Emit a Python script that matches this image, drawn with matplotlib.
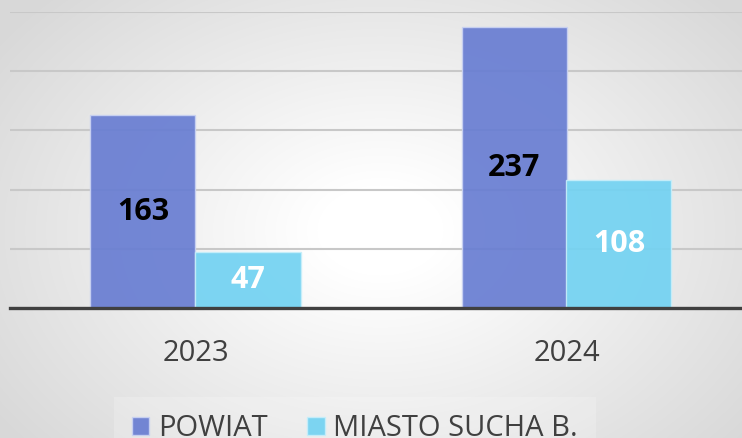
import numpy as np
import matplotlib
matplotlib.use("Agg")
import matplotlib.pyplot as plt

categories = ["2023", "2024"]
powiat = [163, 237]
miasto = [47, 108]
series_names = ["POWIAT", "MIASTO SUCHA B."]
yticks = [0, 50, 100, 150, 200, 250]

plt.rcParams['font.family'] = ['Open Sans', 'DejaVu Sans']

W, H = 742, 438
fig = plt.figure(figsize=(W / 100, H / 100), dpi=100)

# background radial gradient
bg = fig.add_axes([0, 0, 1, 1], zorder=-10)
yy, xx = np.mgrid[0:H, 0:W]
cx, cy = 380, 230
r = np.sqrt(((xx - cx) / 420.0) ** 2 + ((yy - cy) / 300.0) ** 2)
r = np.clip(r, 0, 1.2)
val = 1.0 - 0.15 * np.clip((r - 0.15) / 0.95, 0, 1)
img = np.dstack([val, val, val])
bg.imshow(img, aspect='auto', extent=[0, W, H, 0])
bg.axis('off')

ax = fig.add_axes([10 / W, (H - 308) / H, 742 / W, 296 / H])
ax.patch.set_alpha(0)
x = np.arange(len(categories))
bw = 105 / 371
c1, c2 = '#687DD2', '#72D2F2'
b1 = ax.bar(x - bw / 2, powiat, bw, color=c1, alpha=0.92, edgecolor='#c9d2f2', linewidth=1.0, zorder=3)
b2 = ax.bar(x + bw / 2, miasto, bw, color=c2, alpha=0.92, edgecolor='#c6eefa', linewidth=1.0, zorder=3)

for rect, v in zip(b1, powiat):
    ax.text(rect.get_x() + rect.get_width() / 2, v / 2, str(v), ha='center', va='center',
            fontsize=22, fontweight='bold', color='black', zorder=5)
for rect, v in zip(b2, miasto):
    ax.text(rect.get_x() + rect.get_width() / 2, v / 2, str(v), ha='center', va='center',
            fontsize=22, fontweight='bold', color='white', zorder=5)

ax.set_xlim(-0.5, 1.5)
ax.set_ylim(0, 250)
ax.set_yticks(yticks)
ax.yaxis.grid(True, color='#c8c8c8', linewidth=1.5, zorder=1)
ax.set_axisbelow(True)
ax.tick_params(axis='y', left=False, labelleft=False)
ax.set_xticks(x)
ax.set_xticklabels(categories, fontsize=21, color='#404040')
ax.tick_params(axis='x', length=0, pad=22)
for s in ['top', 'right', 'left']:
    ax.spines[s].set_visible(False)
ax.spines['bottom'].set_color('#404040')
ax.spines['bottom'].set_linewidth(2.4)
ax.spines['bottom'].set_zorder(4)

leg = fig.legend([b1, b2], series_names, loc='lower center', bbox_to_anchor=(355 / W, -0.085),
                 ncol=2, frameon=True, fontsize=21, handlelength=0.6, handleheight=0.6,
                 handletextpad=0.3, columnspacing=1.35, labelcolor='#404040', borderpad=0.6)
leg.get_frame().set_facecolor('white')
leg.get_frame().set_alpha(0.2)
leg.get_frame().set_edgecolor('none')
leg.get_frame().set_boxstyle('square', pad=0)

fig.savefig('out.png', dpi=100)
